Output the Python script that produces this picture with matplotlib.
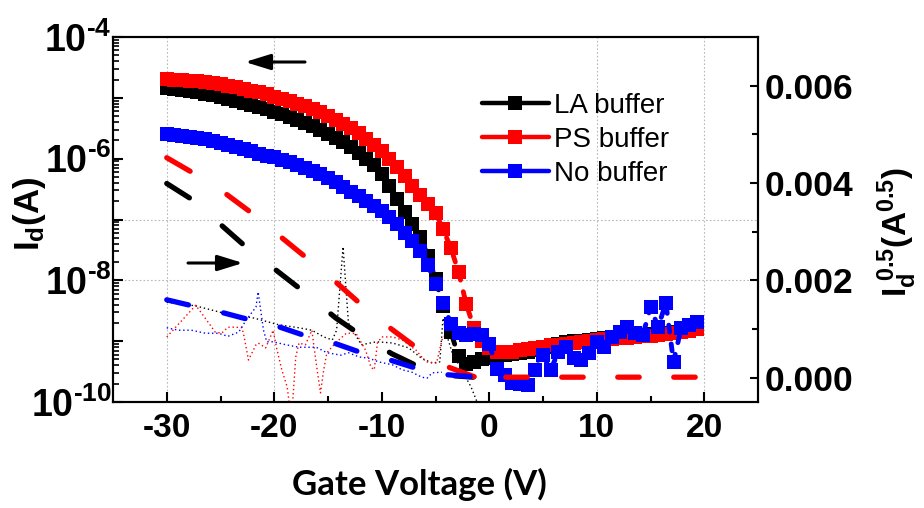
import numpy as np
import matplotlib
matplotlib.use('Agg')
import matplotlib.pyplot as plt
from matplotlib.ticker import FixedLocator, FuncFormatter, NullFormatter, LogLocator
from matplotlib.lines import Line2D

plt.rcParams['font.family'] = ['Liberation Sans', 'DejaVu Sans']
plt.rcParams['mathtext.fontset'] = 'custom'
plt.rcParams['mathtext.rm'] = 'Liberation Sans:bold'
plt.rcParams['mathtext.bf'] = 'Liberation Sans:bold'
plt.rcParams['mathtext.it'] = 'Liberation Sans:bold'
plt.rcParams['axes.unicode_minus'] = False
plt.rcParams['lines.scale_dashes'] = False

# ---------------- data ----------------
series_labels = ['LA buffer', 'PS buffer', 'No buffer']
series_colors = ['#000000', '#ff0000', '#0000ff']

# gate-voltage sweep
V = [-30.00, -29.29, -28.57, -27.86, -27.14, -26.43, -25.71, -25.00, -24.29, -23.57,
     -22.86, -22.14, -21.43, -20.71, -20.00, -19.29, -18.57, -17.86, -17.14, -16.43,
     -15.71, -15.00, -14.29, -13.57, -12.86, -12.14, -11.43, -10.71, -10.00, -9.29,
     -8.57, -7.86, -7.14, -6.43, -5.71, -5.00, -4.29, -3.57, -2.86, -2.14,
     -1.43, -0.71, 0.00, 0.71, 1.43, 2.14, 2.86, 3.57, 4.29, 5.00,
     5.71, 6.43, 7.14, 7.86, 8.57, 9.29, 10.00, 10.71, 11.43, 12.14,
     12.86, 13.57, 14.29, 15.00, 15.71, 16.43, 17.14, 17.86, 18.57, 19.29]

# log10(Id) for each device
LA_log = [-4.84, -4.85, -4.87, -4.89, -4.91, -4.93, -4.96, -4.99, -5.02, -5.05,
          -5.08, -5.12, -5.15, -5.19, -5.23, -5.27, -5.32, -5.37, -5.42, -5.47,
          -5.53, -5.59, -5.66, -5.73, -5.81, -5.90, -6.00, -6.11, -6.26, -6.45,
          -6.66, -6.88, -7.07, -7.28, -7.60, -7.98, -8.42, -8.85, -9.25, -9.38,
          -9.35, -9.30, -9.27, -9.23, -9.22, -9.21, -9.19, -9.17, -9.15, -9.12,
          -9.09, -9.05, -9.02, -9.00, -8.99, -8.98, -8.96, -8.95, -8.94, -8.93,
          -8.92, -8.91, -8.90, -8.89, -8.88, -8.87, -8.85, -8.83, -8.81, -8.79]
PS_log = [-4.69, -4.70, -4.71, -4.72, -4.73, -4.74, -4.76, -4.78, -4.80, -4.82,
          -4.85, -4.88, -4.91, -4.94, -4.98, -5.02, -5.06, -5.10, -5.14, -5.19,
          -5.24, -5.30, -5.36, -5.43, -5.50, -5.58, -5.67, -5.77, -5.88, -6.00,
          -6.13, -6.28, -6.45, -6.60, -6.74, -6.89, -7.16, -7.47, -7.86, -8.39,
          -8.78, -9.00, -9.12, -9.17, -9.18, -9.17, -9.15, -9.13, -9.11, -9.09,
          -9.07, -9.06, -9.04, -9.03, -9.02, -9.00, -8.98, -8.97, -8.96, -8.95,
          -8.94, -8.93, -8.92, -8.91, -8.90, -8.89, -8.87, -8.85, -8.83, -8.80]
NB_log = [-5.60, -5.61, -5.62, -5.64, -5.66, -5.68, -5.71, -5.74, -5.77, -5.80,
          -5.84, -5.88, -5.92, -5.95, -5.98, -6.02, -6.06, -6.10, -6.15, -6.20,
          -6.26, -6.32, -6.39, -6.46, -6.54, -6.62, -6.70, -6.78, -6.86, -6.96,
          -7.08, -7.22, -7.36, -7.52, -7.75, -8.06, -8.37, -8.72, -8.87, -8.90,
          -8.88, -8.90, -9.05, -9.45, -9.55, -9.68, -9.70, -9.72, -9.47, -9.23,
          -9.47, -9.18, -9.10, -9.28, -9.31, -9.19, -9.01, -9.10, -8.93, -8.85,
          -8.77, -8.87, -8.90, -8.44, -8.77, -8.37, -9.34, -8.78, -8.73, -8.69]

# gate leakage current (log10), dotted thin lines
LA_leak_V = [-30.0, -27.3, -24.7, -21.9, -19.6, -17.7, -16.5, -15.4, -14.6, -14.2,
             -13.6, -13.1, -11.9, -10.5, -9.0, -7.5, -6.3, -5.3, -4.6, -4.3,
             -3.9, -3.45, -1.7, -1.2, -0.9]
LA_leak_log = [-8.36, -8.42, -8.54, -8.62, -8.73, -8.78, -8.82, -8.93, -8.98, -8.82,
               -7.45, -8.70, -9.06, -9.01, -9.03, -9.11, -9.28, -9.36, -9.34, -8.62,
               -8.93, -9.19, -9.75, -9.97, -10.3]
PS_leak_V = [-30.0, -27.3, -26.1, -25.5, -24.9, -24.3, -23.6, -23.0, -22.8, -22.4,
             -21.7, -21.5, -20.8, -20.1, -19.8, -19.3, -18.8, -18.4, -18.0, -17.7,
             -17.1, -16.5, -16.1, -15.7, -15.4, -15.1, -14.3, -13.3, -12.4, -11.5,
             -11.0, -10.7, -10.4, -10.0, -9.0, -8.1, -6.8, -5.9, -4.9, -4.4, -4.0]
PS_leak_log = [-8.93, -8.41, -8.70, -8.85, -8.87, -8.77, -8.77, -8.78, -8.93, -9.31,
               -9.06, -9.03, -9.11, -8.82, -9.10, -9.47, -9.75, -10.3, -9.26, -9.03,
               -9.06, -8.82, -9.36, -9.85, -9.47, -9.19, -9.03, -8.87, -8.87, -9.15,
               -9.43, -9.47, -9.03, -8.93, -8.93, -8.98, -9.15, -9.34, -9.36, -8.98, -8.87]
NB_leak_V = [-30.0, -28.9, -27.7, -26.4, -25.2, -24.3, -23.3, -22.6, -21.7, -21.5,
             -21.3, -21.0, -20.7, -20.1, -18.9, -17.7, -16.1, -15.1, -13.8, -13.1,
             -12.1, -11.2, -10.3, -9.0, -8.1, -7.2, -6.3, -5.8, -5.3, -4.4]
NB_leak_log = [-8.78, -8.82, -8.82, -8.87, -8.87, -8.92, -8.85, -8.65, -8.44, -8.19,
               -8.44, -8.82, -9.01, -9.01, -9.06, -9.10, -9.10, -9.19, -9.23, -9.19,
               -9.26, -9.28, -9.34, -9.39, -9.47, -9.51, -9.59, -9.61, -9.52, -9.51]

# sqrt(Id) (right axis, thick dashed lines)
LA_sqrt_V = [-30.0, -27.5, -24.7, -22.6, -19.6, -17.1, -14.3, -11.85, -9.05, -6.6, -4.0, -1.5]
LA_sqrt = [0.00399, 0.00364, 0.00309, 0.00268, 0.00217, 0.00174, 0.00123, 0.00086,
           0.00049, 0.00023, 0.00005, 0.00001]
PS_sqrt_V = [-30.0, -27.5, -24.7, -22.2, -19.6, -17.1, -14.3, -11.85, -9.1, -6.6, -3.9, -1.4,
             0.0, 5.0, 10.0, 15.0, 19.6]
PS_sqrt = [0.00452, 0.00420, 0.00381, 0.00340, 0.00293, 0.00248, 0.00197, 0.00149,
           0.00100, 0.00059, 0.000225, 0.00002, 0.00001, 0.00001, 0.00001, 0.00001, 0.00001]
NB_sqrt_V = [-30.0, -27.5, -24.7, -22.3, -19.5, -17.1, -14.3, -11.85, -9.05, -6.6, -3.9, -1.6]
NB_sqrt = [0.00160, 0.00147, 0.00133, 0.00119, 0.00104, 0.00086, 0.00070, 0.00051,
           0.00035, 0.00018, 0.00006, 0.00002]

x_major = [-30, -20, -10, 0, 10, 20]
x_minor = [-25, -15, -5, 5, 15]
x_grid = [-30, -20, 10, 20]
y_grid = [1e-7, 1e-8]
y2_major = [0.000, 0.002, 0.004, 0.006]
y2_minor = [0.001, 0.003, 0.005]

# ---------------- figure ----------------
W, H = 924, 508
fig = plt.figure(figsize=(W / 100, H / 100), dpi=100)
L0, R0, T0, B0 = 113, 758, 37, 402
ax = fig.add_axes([L0 / W, 1 - B0 / H, (R0 - L0) / W, (B0 - T0) / H])
ax2 = ax.twinx()

ax.set_xlim(-35, 25)
ax.set_yscale('log')
ax.set_ylim(1e-10, 1e-4)
ax2.set_ylim(-0.0005, 0.007)

grid_kw = dict(color='#b8b8b8', lw=0.8, ls=(0, (1.2, 1.5)), zorder=0)
for gx in x_grid:
    ax.axvline(gx, **grid_kw)
for gy in y_grid:
    ax.axhline(gy, **grid_kw)

# leakage (dotted)
leaks = [(LA_leak_V, LA_leak_log), (PS_leak_V, PS_leak_log), (NB_leak_V, NB_leak_log)]
for (lv, ll), c in zip(leaks, series_colors):
    ax.plot(lv, 10 ** np.array(ll), color=c, lw=1.0, ls=(0, (1.0, 2.0)), zorder=1)

# transfer curves (markers)
logs = [LA_log, PS_log, NB_log]
for i, (lg, c) in enumerate(zip(logs, series_colors)):
    ax.plot(V, 10 ** np.array(lg), color=c, lw=3.5, ls=(0, (5, 8.6)),
            dash_capstyle='round', marker='s', ms=10, mew=0, zorder=3 + i)

# sqrt curves (right axis)
ax2.plot(LA_sqrt_V, LA_sqrt, color=series_colors[0], lw=3.8, ls=(0, (19.3, 31.1)),
         dash_capstyle='round', zorder=3)
k = PS_sqrt_V.index(-1.4)
ax2.plot(PS_sqrt_V[:k + 1], PS_sqrt[:k + 1], color=series_colors[1], lw=3.8,
         ls=(0, (19.45, 31.35)), dash_capstyle='round', zorder=4)
ax2.plot(PS_sqrt_V[k:], PS_sqrt[k:], color=series_colors[1], lw=3.8,
         ls=(17.6, (15.44, 24.88)), dash_capstyle='round', zorder=4)
ax2.plot(NB_sqrt_V, NB_sqrt, color=series_colors[2], lw=3.8, ls=(0, (16.05, 25.9)),
         dash_capstyle='round', zorder=5)

# ticks
ax.xaxis.set_major_locator(FixedLocator(x_major))
ax.xaxis.set_minor_locator(FixedLocator(x_minor))
ax.xaxis.set_major_formatter(FuncFormatter(lambda v, p: '%d' % v))
ax.yaxis.set_major_locator(FixedLocator([10.0 ** e for e in range(-10, -3)]))
ax.yaxis.set_minor_locator(LogLocator(base=10, subs=np.arange(2, 10), numticks=20))
ax.yaxis.set_minor_formatter(NullFormatter())


def ylab(v, p):
    e = int(round(np.log10(v)))
    if e % 2 == 0:
        return r'$\mathbf{10^{\text{-}%d}}$' % (-e)
    return ''


ax.yaxis.set_major_formatter(FuncFormatter(ylab))
ax2.yaxis.set_major_locator(FixedLocator(y2_major))
ax2.yaxis.set_minor_locator(FixedLocator(y2_minor))
ax2.yaxis.set_major_formatter(FuncFormatter(lambda v, p: '%.3f' % v))

ax.tick_params(axis='x', which='major', direction='in', length=7, width=1.5, pad=8,
               labelsize=24, top=False)
ax.tick_params(axis='x', which='minor', direction='in', length=4.3, width=1.5, top=False)
ax.tick_params(axis='y', which='major', direction='in', length=7, width=1.5, pad=1,
               labelsize=27, right=False)
ax.tick_params(axis='y', which='minor', direction='in', length=4.3, width=1.2, right=False)
ax2.tick_params(axis='y', which='major', direction='in', length=6, width=1.5, pad=5,
                labelsize=25.5, left=False)
ax2.tick_params(axis='y', which='minor', direction='in', length=4, width=1.5, left=False)
for lab in ax.get_xticklabels() + ax2.get_yticklabels():
    lab.set_fontweight('bold')

for a in (ax, ax2):
    for s in a.spines.values():
        s.set_linewidth(1.5)

# arrows
arr = dict(arrowstyle='-|>,head_length=0.55,head_width=0.17', color='k', lw=2.2,
           mutation_scale=28, shrinkA=0, shrinkB=0)
ax.annotate('', xy=(0.2047, 0.9315), xytext=(0.2977, 0.9315), xycoords='axes fraction',
            textcoords='axes fraction', arrowprops=arr, zorder=8)
ax.annotate('', xy=(0.2016, 0.3808), xytext=(0.1163, 0.3808), xycoords='axes fraction',
            textcoords='axes fraction', arrowprops=arr, zorder=8)

# legend
handles = [Line2D([], [], color=c, lw=3.2, marker='s', ms=10, mew=0,
                  solid_capstyle='round') for c in series_colors]
leg = ax2.legend(handles, series_labels, loc='upper left', bbox_to_anchor=(0.572, 0.846),
                 frameon=False, fontsize=20, handlelength=2.4, handletextpad=0.2,
                 labelspacing=0.28, borderpad=0, borderaxespad=0)

# axis labels
fig.text(419 / W, 1 - 484 / H, 'Gate Voltage (V)', family=['Lato', 'DejaVu Sans'],
         fontweight='bold', fontsize=25, ha='center', va='center')
fig.text(30 / W, 1 - 214 / H, r'$\mathbf{I_d(A)}$', fontsize=25, rotation=90,
         ha='center', va='center')
fig.text(897 / W, 1 - 232 / H, r'$\mathbf{I_d^{\ 0.5}(A^{0.5})}$', fontsize=24,
         rotation=90, ha='center', va='center')

fig.savefig('out.png', dpi=100)
